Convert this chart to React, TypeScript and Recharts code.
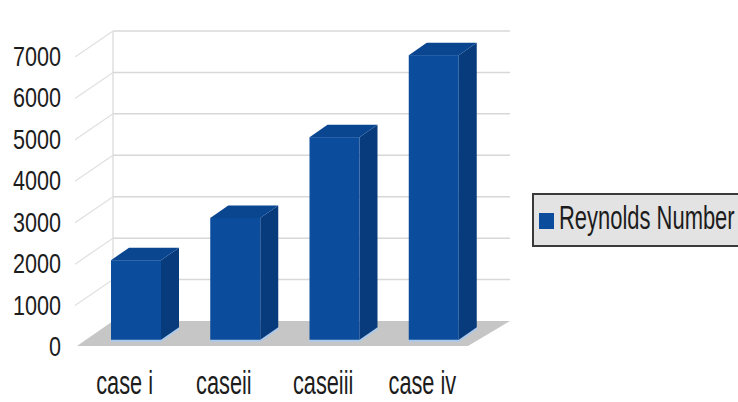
import React from 'react';
import { BarChart, Bar, XAxis, YAxis, CartesianGrid } from 'recharts';

const categories = ['case i', 'caseii', 'caseiii', 'case iv'];
const reynoldsValues = [1920, 2940, 4890, 6870];
const yTicks = [0, 1000, 2000, 3000, 4000, 5000, 6000, 7000];
const seriesName = 'Reynolds Number';

const data = categories.map((name, i) => ({ name, value: reynoldsValues[i] }));

const W = 738;
const H = 402;
const DX = 36;
const DY = 25;
const FRONT = 0.25;
const DEPTH = 0.5;
const FONT = '"Liberation Sans", Arial, sans-serif';
const TEXT = '#1c1c1c';
const FRONT_C = '#0b4c9c';
const SIDE_C = '#073b7c';
const TOP_C = '#0a4690';

const Box3D = (props: any) => {
  const { x, y, width, height } = props;
  if (!width || height == null) return null;
  const fx = x + DX * FRONT;
  const fy = y - DY * FRONT;
  const bx = DX * DEPTH;
  const by = DY * DEPTH;
  const side = `${fx + width},${fy} ${fx + width + bx},${fy - by} ${fx + width + bx},${fy + height - by} ${fx + width},${fy + height}`;
  const topPoly = `${fx},${fy} ${fx + width},${fy} ${fx + width + bx},${fy - by} ${fx + bx},${fy - by}`;
  return (
    <g>
      <line x1={fx} y1={fy + height + 1} x2={fx + width} y2={fy + height + 1} stroke="#a9c9ee" strokeWidth={2} />
      <line x1={fx + width} y1={fy + height + 1} x2={fx + width + bx} y2={fy + height - by + 1} stroke="#a9c9ee" strokeWidth={2} />
      <polygon points={side} fill={SIDE_C} />
      <polygon points={topPoly} fill={TOP_C} />
      <rect x={fx} y={fy} width={width} height={height} fill={FRONT_C} />
    </g>
  );
};

const GridLine = (props: any) => {
  const { x1, y1, x2, y, height, index } = props;
  const bottom = y + height;
  const isBottom = Math.abs(y1 - bottom) < 0.5;
  return (
    <g key={`gl-${index}`}>
      {isBottom && (
        <g>
          <line x1={x1 + DX} y1={y - DY} x2={x1 + DX} y2={bottom - DY} stroke="#cfcfcf" strokeWidth={1} />
          <polygon
            points={`${x1},${bottom} ${x2 - 6},${bottom} ${x2 + DX},${bottom - DY} ${x1 + DX},${bottom - DY}`}
            fill="#c6c6c6"
          />
        </g>
      )}
      {!isBottom && (
        <g>
          <line x1={x1 - 2} y1={y1 + 1} x2={x1 + DX} y2={y1 - DY} stroke="#e0e0e0" strokeWidth={1.2} />
          <line x1={x1 + DX} y1={y1 - DY} x2={x2 + DX} y2={y1 - DY} stroke="#d8d8d8" strokeWidth={1.5} />
        </g>
      )}
    </g>
  );
};

const YTick = (props: any) => {
  const { x, y, payload } = props;
  return (
    <text
      transform={`translate(${x},${y + 10}) scale(0.77,1)`}
      textAnchor="end"
      fontFamily={FONT}
      fontSize={28}
      fill={TEXT}
    >
      {payload.value}
    </text>
  );
};

const XTick = (props: any) => {
  const { x, y, payload } = props;
  return (
    <text
      transform={`translate(${x - 2},${y + 48}) scale(0.68,1.06)`}
      textAnchor="middle"
      fontFamily={FONT}
      fontSize={32}
      fill={TEXT}
    >
      {payload.value}
    </text>
  );
};

export default function App() {
  return (
    <div style={{ position: 'absolute', left: 0, top: 0, width: W, height: H, background: '#fff', overflow: 'hidden' }}>
      <BarChart
        width={W}
        height={H}
        data={data}
        margin={{ top: 56, right: 264, bottom: 0, left: 0 }}
        barSize={50}
      >
        <CartesianGrid horizontal={GridLine} vertical={false} />
        <YAxis
          domain={[0, 7000]}
          ticks={yTicks}
          width={77}
          axisLine={false}
          tickLine={false}
          tickSize={0}
          tickMargin={16}
          tick={<YTick />}
          interval={0}
        />
        <XAxis
          dataKey="name"
          height={56}
          axisLine={false}
          tickLine={false}
          tickSize={0}
          tickMargin={0}
          tick={<XTick />}
          interval={0}
        />
        <Bar dataKey="value" name={seriesName} shape={<Box3D />} isAnimationActive={false} />
      </BarChart>
      <div
        style={{
          position: 'absolute',
          left: 532,
          top: 193,
          width: W - 532,
          height: 50,
          background: '#e3e3e3',
          borderTop: '2px solid #3a3a3a',
          borderBottom: '2px solid #3a3a3a',
          borderLeft: '2px solid #3a3a3a',
          overflow: 'hidden',
          boxSizing: 'content-box',
        }}
      >
        <div style={{ position: 'absolute', left: 5, top: 18, width: 15, height: 16, background: FRONT_C }} />
        <span
          style={{
            position: 'absolute',
            left: 25,
            top: 1,
            fontFamily: FONT,
            fontSize: 33,
            lineHeight: '44px',
            color: TEXT,
            whiteSpace: 'nowrap',
            transform: 'scale(0.665,1)',
            transformOrigin: 'left center',
          }}
        >
          {seriesName}
        </span>
      </div>
    </div>
  );
}
